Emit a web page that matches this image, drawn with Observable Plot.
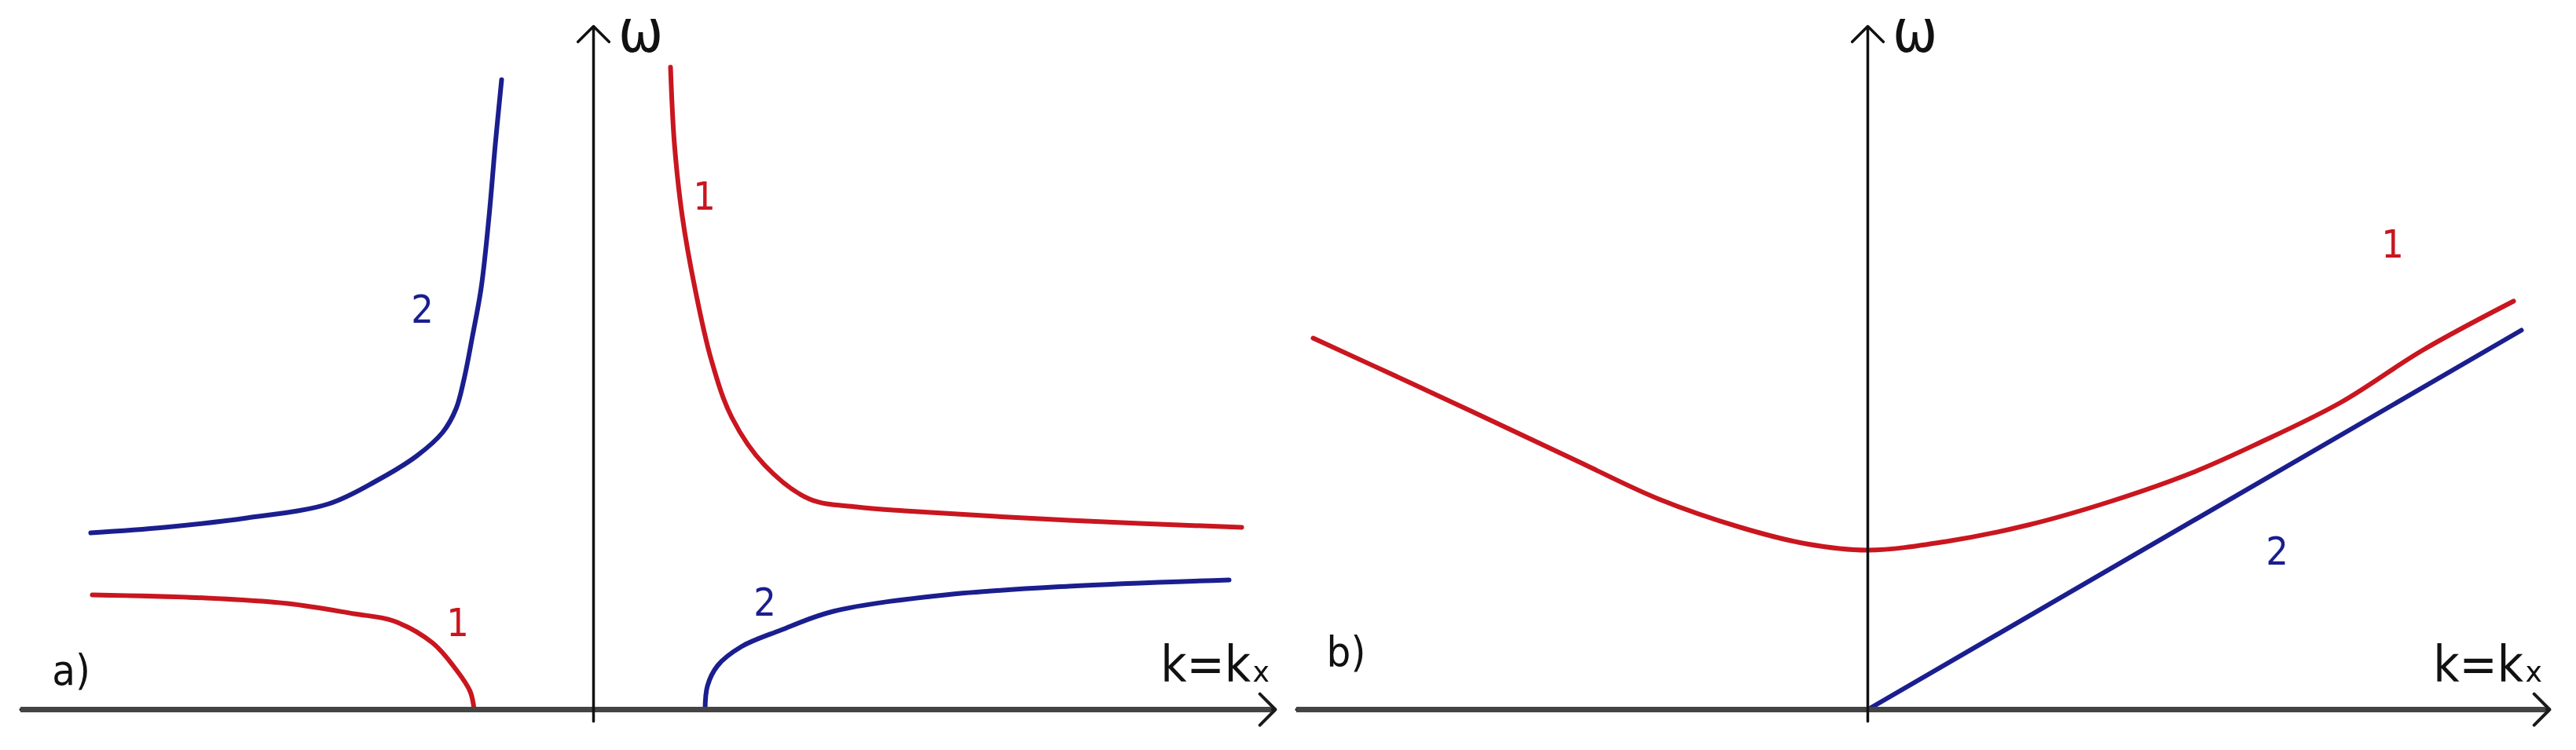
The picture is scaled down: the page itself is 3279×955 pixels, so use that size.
<!DOCTYPE html>
<html><head><meta charset="utf-8">
<script src="https://cdn.jsdelivr.net/npm/d3@7"></script>
<script src="https://cdn.jsdelivr.net/npm/@observablehq/plot@0.6"></script>
<style>
html,body{margin:0;padding:0;background:#fff;overflow:hidden}
#row{display:flex;width:3279px;height:955px}
#row svg{display:block;flex:none}
</style></head><body><div id="row"></div>
<script>
// ---------- Panel a: dispersion branches (k, ω in arbitrary units) ----------
const aRed1UpperK = [0.98, 1.03, 1.13, 1.29, 1.50, 1.76, 2.18, 2.75, 3.35, 3.96, 6.05, 8.25];
const aRed1UpperW = [8.18, 7.20, 6.28, 5.37, 4.45, 3.72, 3.11, 2.68, 2.58, 2.53, 2.41, 2.32];

const aRed1LowerK = [-6.38, -4.93, -3.89, -3.05, -2.55, -2.05, -1.75, -1.57, -1.52];
const aRed1LowerW = [1.46, 1.42, 1.35, 1.22, 1.13, 0.85, 0.51, 0.23, 0.0];

const aBlue2UpperK = [-6.40, -5.46, -4.41, -3.37, -2.75, -2.25, -1.92, -1.75, -1.65, -1.54, -1.43, -1.33, -1.25, -1.17];
const aBlue2UpperW = [2.25, 2.32, 2.44, 2.62, 2.92, 3.23, 3.53, 3.83, 4.20, 4.76, 5.37, 6.28, 7.20, 8.02];

const aBlue2LowerK = [1.42, 1.45, 1.58, 1.88, 2.38, 3.05, 4.48, 6.05, 8.09];
const aBlue2LowerW = [0.0, 0.30, 0.56, 0.80, 1.01, 1.25, 1.46, 1.57, 1.65];

// ---------- Panel b ----------
const bRed1K = [-7.06, -5.80, -4.75, -3.71, -2.66, -1.62, -0.78, 0.0, 1.00, 2.04, 3.09, 4.14, 4.97, 6.02, 7.07, 8.22];
const bRed1W = [4.73, 4.15, 3.66, 3.17, 2.68, 2.32, 2.11, 2.03, 2.14, 2.35, 2.65, 3.02, 3.39, 3.91, 4.58, 5.20];

const bBlue2K = [0.0, 8.32];
const bBlue2W = [0.0, 4.83];

// ---------- Axis extents (k from/to, ω from/to) ----------
const aAxisK = [-7.29, 8.68];
const bAxisK = [-7.27, 8.68];
const axisW = [-0.15, 8.70];

// ---------- Labels ----------
const aLabelText = ["2", "1", "1", "2"];
const aLabelK = [-2.18, 1.41, -1.73, 2.18];
const aLabelW = [5.09, 6.53, 1.10, 1.36];
const aLabelSeries = ["2", "1", "1", "2"];

const bLabelText = ["1", "2"];
const bLabelK = [6.68, 5.21];
const bLabelW = [5.92, 2.01];
const bLabelSeries = ["1", "2"];

const panelNames = ["a)", "b)"];
const panelNameK = [-6.65, -6.64];
const panelNameW = [0.49, 0.72];
const axisTitleX = "k=kₓ";
const axisTitleXK = [7.92, 7.90];
const axisTitleXW = 0.56;
const axisTitleY = "ω";
const axisTitleYK = 0.60;
const axisTitleYW = 8.62;

// x-domains of each panel (panel a spans 1640px, b spans 1639px)
const aDomainK = [-7.55, 8.85];
const bDomainK = [-7.37, 9.02];
const domainW = [-0.52, 9.03];

const RED = "#c9161f", BLUE = "#1a1e8e";
const seriesColor = {"1": RED, "2": BLUE};
const FONT = "'DejaVu Sans Condensed', 'Liberation Sans Narrow', 'Roboto', sans-serif";

const toRows = (K, W) => K.map((k, i) => ({k, w: W[i]}));

function panel({width, domainK, axisK, curves, labelText, labelK, labelW, labelSeries, nameIdx}) {
  const yAxis = [{x1: 0, x2: 0, y1: axisW[0], y2: axisW[1]}];
  const xAxis = [{x1: axisK[0], x2: axisK[1], y1: 0, y2: 0}];
  const labels = labelText.map((t, i) => ({t, k: labelK[i], w: labelW[i], s: labelSeries[i]}));
  const marks = [];
  for (const c of curves) {
    marks.push(Plot.line(toRows(c.K, c.W), {x: "k", y: "w", stroke: c.color, strokeWidth: 6, curve: c.curve || "catmull-rom"}));
  }
  // x axis: black arrow head + thick gray shaft
  marks.push(Plot.arrow(xAxis, {x1: "x1", x2: "x2", y1: "y1", y2: "y2", stroke: "#1a1a1a", strokeWidth: 4, headAngle: 90, headLength: 10.5}));
  marks.push(Plot.ruleY([0], {x1: axisK[0], x2: axisK[1] - 0.05, stroke: "#444", strokeWidth: 7}));
  // y axis arrow
  marks.push(Plot.arrow(yAxis, {x1: "x1", x2: "x2", y1: "y1", y2: "y2", stroke: "#111", strokeWidth: 3.5, headAngle: 90, headLength: 12}));
  // curve labels
  marks.push(Plot.text(labels, {x: "k", y: "w", text: "t", fill: d => seriesColor[d.s], fontSize: 50, fontFamily: FONT}));
  // panel name
  marks.push(Plot.text([panelNames[nameIdx]], {x: panelNameK[nameIdx], y: panelNameW[nameIdx], text: d => d, fill: "#111", fontSize: 54, fontFamily: FONT}));
  // axis titles
  marks.push(Plot.text([axisTitleX], {x: axisTitleXK[nameIdx], y: axisTitleXW, text: d => d, fill: "#111", fontSize: 64, fontFamily: FONT}));
  marks.push(Plot.text([axisTitleY], {x: axisTitleYK, y: axisTitleYW, text: d => d, fill: "#111", fontSize: 76, fontFamily: FONT}));
  return Plot.plot({
    width, height: 955, margin: 0,
    style: {background: "#fff", overflow: "visible"},
    x: {domain: domainK, axis: null},
    y: {domain: domainW, axis: null},
    marks
  });
}

const row = document.getElementById("row");
row.append(panel({
  width: 1640, domainK: aDomainK, axisK: aAxisK, nameIdx: 0,
  curves: [
    {K: aBlue2UpperK, W: aBlue2UpperW, color: BLUE},
    {K: aRed1LowerK, W: aRed1LowerW, color: RED},
    {K: aRed1UpperK, W: aRed1UpperW, color: RED},
    {K: aBlue2LowerK, W: aBlue2LowerW, color: BLUE}
  ],
  labelText: aLabelText, labelK: aLabelK, labelW: aLabelW, labelSeries: aLabelSeries
}));
row.append(panel({
  width: 1639, domainK: bDomainK, axisK: bAxisK, nameIdx: 1,
  curves: [
    {K: bRed1K, W: bRed1W, color: RED},
    {K: bBlue2K, W: bBlue2W, color: BLUE, curve: "linear"}
  ],
  labelText: bLabelText, labelK: bLabelK, labelW: bLabelW, labelSeries: bLabelSeries
}));
</script>
</body></html>
